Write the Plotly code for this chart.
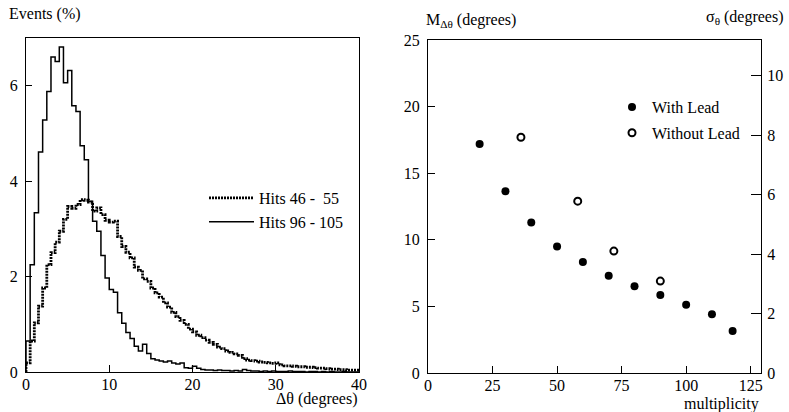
import plotly.graph_objects as go

# ---------------- data ----------------
bin_width = 0.5
n_bins = 80

# Hits 46 - 55 (dotted histogram), Events (%) per 0.5 degree bin
hits_46_55 = [0.19, 0.65, 1.03, 1.38, 1.76, 2.25, 2.50, 2.72, 2.95, 3.20,
              3.47, 3.43, 3.51, 3.61, 3.60, 3.56, 3.37, 3.44, 3.30, 3.18,
              3.14, 3.16, 2.84, 2.63, 2.51, 2.39, 2.20, 2.13, 1.95, 1.90,
              1.76, 1.66, 1.57, 1.45, 1.36, 1.25, 1.16, 1.08, 1.00, 0.90,
              0.84, 0.77, 0.72, 0.67, 0.62, 0.58, 0.52, 0.49, 0.44, 0.41,
              0.38, 0.35, 0.28, 0.25, 0.24, 0.23, 0.21, 0.20, 0.19, 0.18,
              0.19, 0.15, 0.13, 0.13, 0.12, 0.11, 0.11, 0.10, 0.10, 0.09,
              0.08, 0.08, 0.07, 0.06, 0.06, 0.05, 0.05, 0.04, 0.04, 0.04]

# Hits 96 - 105 (solid histogram)
hits_96_105 = [0.65, 2.25, 3.34, 4.61, 5.28, 5.88, 6.60, 6.51, 6.81, 6.06,
               6.32, 5.58, 5.46, 4.74, 4.45, 3.58, 3.16, 2.95, 2.44, 1.97,
               1.73, 1.67, 1.24, 1.02, 0.83, 0.70, 0.54, 0.44, 0.58, 0.39,
               0.28, 0.25, 0.23, 0.21, 0.23, 0.19, 0.17, 0.19, 0.09, 0.08,
               0.12, 0.08, 0.05, 0.04, 0.04, 0.03, 0.04, 0.03, 0.03, 0.02,
               0.03, 0.02, 0.05, 0.03, 0.02, 0.02, 0.01, 0.02, 0.01, 0.02,
               0.01, 0.01, 0.01, 0.02, 0.01, 0.01, 0.01, 0.00, 0.01, 0.01,
               0.00, 0.01, 0.00, 0.01, 0.00, 0.00, 0.01, 0.00, 0.00, 0.00]

# Right panel: M_dtheta vs multiplicity
mult_with = [20, 30, 40, 50, 60, 70, 80, 90, 100, 110, 118]
m_with = [17.2, 13.65, 11.3, 9.5, 8.33, 7.3, 6.52, 5.85, 5.12, 4.42, 3.15]
mult_without = [36, 58, 72, 90]
m_without = [17.7, 12.9, 9.15, 6.9]

left_xticks = [0, 10, 20, 30, 40]
left_yticks = [0, 2, 4, 6]
right_xticks = [0, 25, 50, 75, 100, 125]
right_yticks = [0, 5, 10, 15, 20, 25]
sigma_ticks = [0, 2, 4, 6, 8, 10]

# ---------------- figure ----------------
W, H = 789, 412
FONT = "Liberation Serif"
FS = 16

def px_x(p):
    return p / W

def px_y(p):
    return 1 - p / H

edges = [i * bin_width for i in range(n_bins + 1)]

def step(vals):
    return [0] + edges, [0] + list(vals) + [vals[-1]]

fig = go.Figure()

sx, sy = step(hits_46_55)
fig.add_trace(go.Scatter(x=sx, y=sy, mode="lines", line_shape="hv",
                         line=dict(color="black", width=2.8, dash="2px,1px"),
                         name="Hits 46 -\u00a0\u00a055", xaxis="x", yaxis="y",
                         legend="legend"))
sx, sy = step(hits_96_105)
fig.add_trace(go.Scatter(x=sx, y=sy, mode="lines", line_shape="hv",
                         line=dict(color="black", width=1.5),
                         name="Hits 96 - 105", xaxis="x", yaxis="y",
                         legend="legend"))

fig.add_trace(go.Scatter(x=mult_with, y=m_with, mode="markers",
                         marker=dict(symbol="circle", size=8, color="black"),
                         name="With Lead", xaxis="x2", yaxis="y2",
                         legend="legend2", legendgroup="a"))
fig.add_trace(go.Scatter(x=mult_without, y=m_without, mode="markers",
                         marker=dict(symbol="circle-open", size=7, color="black",
                                     line=dict(width=2)),
                         name="Without Lead", xaxis="x2", yaxis="y2",
                         legend="legend2", legendgroup="b"))
# empty trace to register the sigma axis
fig.add_trace(go.Scatter(x=[None], y=[None], xaxis="x2", yaxis="y3",
                         showlegend=False, hoverinfo="skip"))

axis_common = dict(showgrid=False, zeroline=False, ticks="inside",
                   linecolor="black", linewidth=1, tickcolor="black",
                   automargin=False,
                   tickfont=dict(family=FONT, size=FS, color="black"))

fig.update_layout(
    width=W, height=H,
    margin=dict(l=0, r=0, t=0, b=0, autoexpand=False),
    paper_bgcolor="white", plot_bgcolor="white",
    font=dict(family=FONT, size=FS, color="black"),
    xaxis=dict(domain=[px_x(26), px_x(359)], range=[0, 40], tickvals=left_xticks,
               ticklen=7, showline=True, mirror=True, anchor="y",
               ticklabelstandoff=-2, **axis_common),
    yaxis=dict(domain=[px_y(372), px_y(38)], range=[0, 7], tickvals=left_yticks,
               ticklen=6, showline=True, mirror=True, anchor="x",
               ticklabelstandoff=4, **axis_common),
    xaxis2=dict(domain=[px_x(428), px_x(761)], range=[0, 129], tickvals=right_xticks,
                ticklen=7, showline=True, mirror=True, anchor="y2",
                ticklabelstandoff=-2, **axis_common),
    yaxis2=dict(domain=[px_y(373), px_y(40)], range=[0, 25], tickvals=right_yticks,
                ticklen=7, showline=True, mirror=False, anchor="x2",
                ticklabelstandoff=4, **axis_common),
    yaxis3=dict(range=[0, 11.2], tickvals=sigma_ticks, overlaying="y2", side="right",
                anchor="x2", ticklen=10, showline=True, ticklabelstandoff=2,
                **axis_common),
    legend=dict(x=px_x(204), y=px_y(181), xanchor="left", yanchor="top",
                bgcolor="rgba(0,0,0,0)", borderwidth=0, itemwidth=45,
                font=dict(family=FONT, size=FS, color="black"),
                tracegroupgap=0),
    legend2=dict(x=px_x(612), y=px_y(90), xanchor="left", yanchor="top",
                 bgcolor="rgba(0,0,0,0)", borderwidth=0,
                 font=dict(family=FONT, size=FS, color="black"),
                 tracegroupgap=2),
    showlegend=True,
)

ann = dict(xref="paper", yref="paper", showarrow=False,
           font=dict(family=FONT, size=FS, color="black"))
fig.add_annotation(text="Events (%)", x=px_x(7), y=px_y(14), xanchor="left",
                   yanchor="middle", **ann)
fig.add_annotation(text="\u0394\u03b8 (degrees)", x=px_x(359), y=px_y(399),
                   xanchor="right", yanchor="middle", **ann)
fig.add_annotation(text="M<sub>\u0394\u03b8</sub> (degrees)", x=px_x(424), y=px_y(21),
                   xanchor="left", yanchor="middle", **ann)
fig.add_annotation(text="\u03c3<sub>\u03b8</sub> (degrees)", x=px_x(786), y=px_y(18),
                   xanchor="right", yanchor="middle", **ann)
fig.add_annotation(text="multiplicity", x=px_x(761), y=px_y(404),
                   xanchor="right", yanchor="middle", **ann)

# remove the default page margin so the figure sits at the window's corner
fig.write_html("out.html", config={"displayModeBar": False},
               post_script="document.body.style.margin='0';")
